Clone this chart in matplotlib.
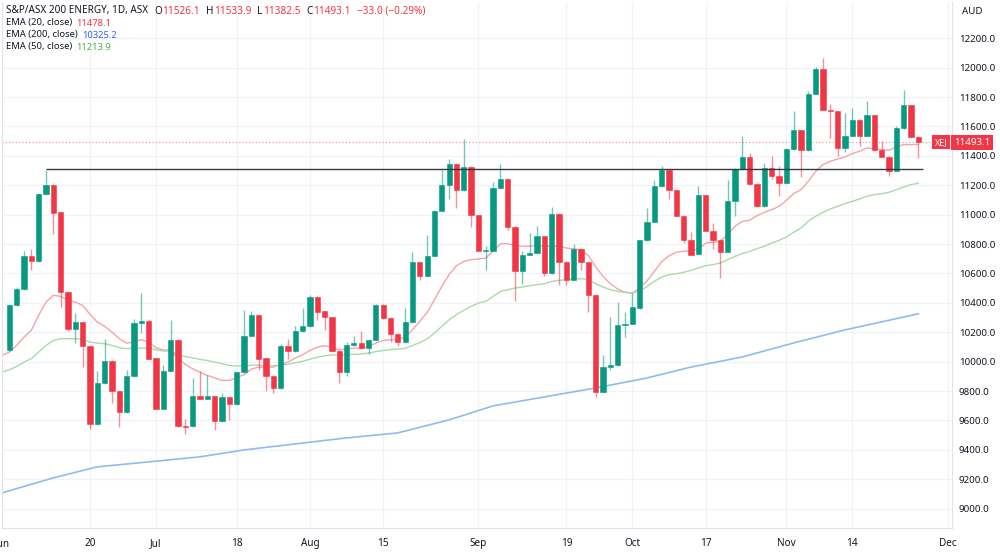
import numpy as np
import pandas as pd
import matplotlib
matplotlib.use("Agg")
import matplotlib.pyplot as plt
from matplotlib.transforms import blended_transform_factory

plt.rcParams['font.family'] = ['Noto Sans', 'DejaVu Sans']

# trading days (ASX closed Jun 13 and Sep 22 2022)
holidays = ["2022-06-13", "2022-09-22"]
days = pd.bdate_range("2022-06-01", "2022-12-02")
days = days[~days.isin(pd.to_datetime(holidays))]
pos = {d.strftime("%Y-%m-%d"): k - 1 for k, d in enumerate(days)}

opens = [10076, 10383, 10494, 10716, 10685, 11139, 11202, 11016, 10476, 10219,
         10269, 10108, 9577, 9854, 10004, 9797, 9654, 9899, 10265, 10278,
         10024, 9679, 9938, 10149, 9561, 9559, 9765, 9749, 9765, 9593,
         9759, 9713, 9929, 10176, 10319, 10022, 9904, 9820, 10104, 10072,
         10208, 10240, 10442, 10342, 10301, 10072, 9927, 10110, 10126, 10092,
         10149, 10387, 10299, 10190, 10133, 10269, 10676, 10585, 10722, 11027,
         11202, 11348, 11166, 11325, 10996, 10755, 10755, 11182, 11243, 10916,
         10614, 10728, 10739, 10853, 10603, 11007, 10678, 10558, 10769, 10676,
         10455, 9793, 9963, 9974, 10251, 10258, 10362, 10825, 10953, 11193,
         11302, 11170, 10993, 10830, 10735, 11132, 10891, 10830, 10748, 11091,
         11311, 11393, 11209, 11057, 11320, 11266, 11216, 11447, 11575, 11438,
         11824, 11988, 11715, 11702, 11454, 11538, 11647, 11538, 11677, 11438,
         11393, 11298, 11590, 11743, 11526.1]
highs = [10395, 10505, 10753, 10769, 11145, 11307, 11208, 11020, 10480, 10331,
         10272, 10112, 9933, 10156, 10008, 9800, 9940, 10290, 10467, 10282,
         10028, 9979, 10285, 10152, 9611, 9888, 9933, 9906, 9768, 9788,
         9762, 9932, 10353, 10342, 10323, 10026, 9908, 10120, 10154, 10240,
         10365, 10455, 10446, 10346, 10305, 10076, 10133, 10172, 10208, 10153,
         10391, 10391, 10303, 10194, 10365, 10744, 10680, 10864, 11031, 11302,
         11379, 11352, 11516, 11329, 11000, 10785, 11220, 11348, 11247, 10920,
         10751, 10875, 10921, 10857, 11052, 11011, 10682, 10800, 10773, 10680,
         10459, 10042, 10303, 10403, 10337, 10467, 10829, 11043, 11234, 11334,
         11306, 11174, 10997, 10882, 11193, 11136, 10943, 10834, 11239, 11315,
         11538, 11420, 11213, 11352, 11397, 11329, 11451, 11704, 11579, 11842,
         12006, 12067, 11756, 11706, 11693, 11727, 11651, 11772, 11681, 11500,
         11397, 11602, 11845, 11747, 11533.9]
lows = [10070, 10378, 10488, 10626, 10680, 11135, 10871, 10371, 10208, 10126,
        9963, 9543, 9572, 9850, 9718, 9554, 9650, 9895, 10194, 10018,
        9675, 9675, 9934, 9555, 9509, 9555, 9745, 9745, 9536, 9590,
        9600, 9708, 9925, 10172, 9940, 9797, 9787, 9816, 10020, 10068,
        10204, 10236, 10281, 10217, 10068, 9854, 9905, 10106, 10088, 10054,
        10145, 10290, 10133, 10108, 10129, 10265, 10558, 10581, 10718, 11023,
        11107, 11046, 11162, 10916, 10751, 10626, 10751, 11178, 10898, 10410,
        10530, 10724, 10735, 10580, 10599, 10524, 10519, 10554, 10626, 10335,
        9759, 9789, 9940, 9970, 10167, 10254, 10358, 10821, 10949, 11189,
        11107, 10989, 10807, 10724, 10731, 10887, 10769, 10569, 10744, 10989,
        11307, 11205, 11053, 11053, 11243, 11125, 11212, 11443, 11257, 11434,
        11820, 11711, 11522, 11402, 11425, 11534, 11470, 11534, 11434, 11389,
        11261, 11294, 11586, 11525, 11382.5]
closes = [10387, 10496, 10716, 10685, 11139, 11202, 11014, 10474, 10219, 10269,
          10108, 9577, 9854, 10004, 9797, 9654, 9899, 10265, 10278, 10020,
          9679, 9938, 10149, 9559, 9556, 9765, 9749, 9765, 9593, 9759,
          9713, 9929, 10176, 10319, 10017, 9904, 9820, 10104, 10072, 10208,
          10240, 10442, 10340, 10301, 10072, 9927, 10110, 10126, 10092, 10149,
          10387, 10294, 10190, 10133, 10269, 10676, 10585, 10722, 11027, 11202,
          11348, 11166, 11325, 10996, 10755, 10762, 11182, 11243, 10916, 10614,
          10728, 10739, 10853, 10603, 11007, 10678, 10558, 10769, 10676, 10451,
          9793, 9963, 9974, 10251, 10258, 10371, 10825, 10953, 11193, 11302,
          11170, 10993, 10830, 10728, 11132, 10891, 10830, 10748, 11091, 11311,
          11393, 11209, 11057, 11320, 11266, 11216, 11447, 11575, 11443, 11824,
          11988, 11715, 11702, 11454, 11538, 11647, 11538, 11677, 11438, 11393,
          11298, 11590, 11743, 11529, 11493.1]

# EMA readings, first value is Jun 1
ema20 = [10042, 10065, 10110, 10167, 10213, 10315, 10405, 10451, 10444, 10417,
         10405, 10383, 10322, 10269, 10240, 10201, 10156, 10126, 10133, 10149,
         10133, 10095, 10080, 10080, 10020, 9981, 9951, 9929, 9906, 9890,
         9872, 9872, 9890, 9911, 9949, 9963, 9963, 9963, 9979, 9997,
         10024, 10047, 10076, 10099, 10108, 10099, 10081, 10085, 10092, 10092,
         10104, 10126, 10144, 10149, 10149, 10167, 10217, 10274, 10335, 10421,
         10512, 10592, 10653, 10682, 10694, 10698, 10705, 10751, 10803, 10803,
         10789, 10785, 10785, 10789, 10785, 10785, 10785, 10773, 10766, 10762,
         10721, 10644, 10580, 10530, 10494, 10471, 10467, 10501, 10550, 10615,
         10680, 10720, 10745, 10751, 10757, 10766, 10807, 10812, 10819, 10864,
         10921, 10955, 10962, 10993, 11016, 11034, 11057, 11098, 11143, 11170,
         11227, 11295, 11341, 11363, 11379, 11393, 11416, 11432, 11454, 11447,
         11443, 11438, 11461, 11477, 11477, 11478.1]
ema50 = [9929, 9945, 9967, 9997, 10020, 10065, 10110, 10144, 10156, 10156,
         10156, 10151, 10133, 10126, 10122, 10110, 10095, 10088, 10092, 10092,
         10092, 10081, 10072, 10072, 10049, 10035, 10026, 10015, 10008, 9997,
         9986, 9974, 9970, 9972, 9975, 9977, 9975, 9972, 9976, 9982,
         9992, 10002, 10016, 10030, 10040, 10045, 10045, 10047, 10050, 10052,
         10058, 10068, 10076, 10082, 10085, 10090, 10110, 10130, 10155, 10195,
         10240, 10285, 10320, 10350, 10376, 10399, 10410, 10444, 10478, 10489,
         10501, 10508, 10517, 10524, 10530, 10546, 10553, 10558, 10562, 10564,
         10558, 10530, 10508, 10489, 10478, 10471, 10467, 10478, 10512, 10546,
         10576, 10592, 10598, 10608, 10621, 10637, 10653, 10660, 10671, 10694,
         10716, 10735, 10751, 10769, 10785, 10807, 10825, 10848, 10880, 10909,
         10955, 10989, 11016, 11039, 11057, 11075, 11091, 11107, 11125, 11136,
         11143, 11152, 11170, 11189, 11205, 11213.9]
ema200_dates = ["2022-06-01", "2022-06-10", "2022-06-21", "2022-06-30", "2022-07-11",
                "2022-07-19", "2022-07-28", "2022-08-08", "2022-08-17", "2022-08-26",
                "2022-09-05", "2022-09-14", "2022-09-26", "2022-10-05", "2022-10-13",
                "2022-10-24", "2022-11-02", "2022-11-11", "2022-11-25"]
ema200 = [9107, 9209, 9284, 9318, 9352, 9399, 9440, 9481, 9515, 9604,
          9699, 9760, 9821, 9889, 9963, 10032, 10127, 10216, 10325.2]

resistance = 11311
resistance_from = "2022-06-09"
last_close = 11493.1

tick_dates = ["2022-06-01", "2022-06-20", "2022-07-01", "2022-07-18", "2022-08-01",
              "2022-08-15", "2022-09-01", "2022-09-19", "2022-10-03", "2022-10-17",
              "2022-11-01", "2022-11-14", "2022-12-01"]
tick_labels = ["Jun", "20", "Jul", "18", "Aug", "15", "Sep", "19", "Oct", "17",
               "Nov", "14", "Dec"]
price_ticks = np.arange(9000, 12201, 200)

UP = '#089981'
DOWN = '#F23645'
TXT = '#131722'
GRID = '#F0F3FA'

fig = plt.figure(figsize=(10, 5.55), dpi=100)
W, H = 1000, 555
ax = fig.add_axes([2 / W, (H - 528) / H, 950 / W, 526 / H])

n = len(closes)
x = np.arange(n)
o = np.array(opens); c = np.array(closes)
hi = np.array(highs); lo = np.array(lows)
col = np.where(c >= o, UP, DOWN)

ax.vlines(x, lo, hi, colors=col, linewidth=1.0, alpha=0.55, zorder=3)
body_lo = np.minimum(o, c)
body_h = np.maximum(np.abs(c - o), 6)
ax.bar(x, body_h, bottom=body_lo, width=0.72, color=col, edgecolor=col,
       linewidth=0.4, zorder=4)

xe = np.arange(-1, n)
ax.plot(xe, ema20, color='#F7A3A7', lw=1.0, zorder=2)
ax.plot(xe, ema50, color='#A8DBA8', lw=1.0, zorder=2)
ax.plot([pos[d] for d in ema200_dates], ema200, color='#8FBBF2', lw=1.2, zorder=2)

ax.hlines(resistance, pos[resistance_from], n - 0.3, color='#363A45', lw=1.0, zorder=5)
ax.axhline(last_close, color='#F23645', lw=0.8, ls=(0, (1, 2)), alpha=0.6, zorder=1)

ax.set_xlim(-0.64, 128.6)
ax.set_ylim(8868, 12447)
ax.set_xticks([pos[d] for d in tick_dates])
ax.set_xticklabels(tick_labels)
ax.set_yticks(price_ticks)
ax.set_yticklabels([f"{v:.1f}" for v in price_ticks])
ax.yaxis.tick_right()
ax.tick_params(axis='both', length=0, labelsize=7.2, colors=TXT)
ax.tick_params(axis='y', labelsize=7, pad=5)
ax.tick_params(axis='x', pad=7)
ax.grid(True, color=GRID, lw=0.9, zorder=0)
ax.set_axisbelow(True)
for s in ax.spines.values():
    s.set_color('#E0E3EB')
    s.set_linewidth(0.8)
ax.spines['top'].set_visible(False)

# last price labels on the scale
tr = blended_transform_factory(fig.transFigure, ax.transData)
ax.text(941 / W, last_close, "XEJ", transform=tr, ha='center', va='center',
        fontsize=6.5, color='white', zorder=10, clip_on=False,
        bbox=dict(boxstyle='square,pad=0.3', fc=DOWN, ec='none'))
ax.text(972 / W, last_close, f"{last_close:.1f}", transform=tr, ha='center',
        va='center', fontsize=7, color='white', zorder=10, clip_on=False,
        bbox=dict(boxstyle='square,pad=0.3', fc=DOWN, ec='none'))
fig.text(962 / W, 1 - 12 / H, "AUD", fontsize=7, color=TXT, ha='left', va='center')

# legend lines
fig.canvas.draw()
renderer = fig.canvas.get_renderer()


def pieces(y, parts, size):
    xp = 6 / W
    for s, cc, gap in parts:
        t = fig.text(xp, 1 - y / H, s, fontsize=size, color=cc, va='center', ha='left')
        bb = t.get_window_extent(renderer=renderer)
        xp = (bb.x1 + gap) / W


pieces(11, [("S&P/ASX 200 ENERGY, 1D, ASX", TXT, 6), ("O", TXT, 0.5), ("11526.1", DOWN, 6),
            ("H", TXT, 0.5), ("11533.9", DOWN, 6), ("L", TXT, 0.5), ("11382.5", DOWN, 6),
            ("C", TXT, 0.5), ("11493.1", DOWN, 6), ("−33.0 (−0.29%)", DOWN, 0)], 7.2)
pieces(23, [("EMA (20, close)", TXT, 4), ("11478.1", DOWN, 0)], 6.8)
pieces(35, [("EMA (200, close)", TXT, 4), ("10325.2", '#2962FF', 0)], 6.8)
pieces(47, [("EMA (50, close)", TXT, 4), ("11213.9", '#4CAF50', 0)], 6.8)

fig.savefig("out.png", dpi=100, facecolor='white')
